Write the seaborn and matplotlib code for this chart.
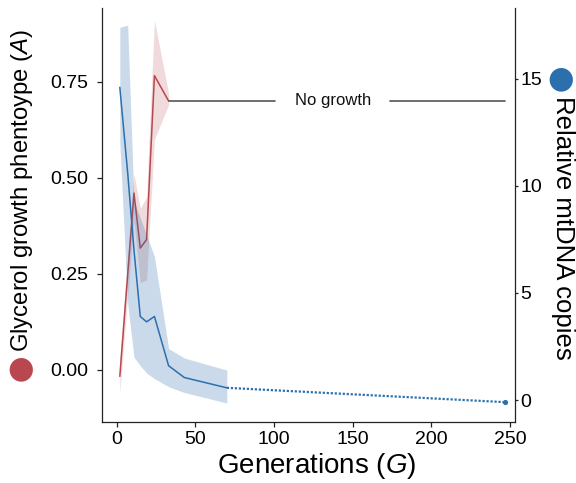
import matplotlib
matplotlib.use("Agg")
import matplotlib.pyplot as plt
import seaborn as sns

sns.set_style("ticks")
plt.rcParams["font.family"] = ["Liberation Sans", "DejaVu Sans"]
plt.rcParams["mathtext.fontset"] = "custom"
plt.rcParams["mathtext.rm"] = "Liberation Sans"
plt.rcParams["mathtext.it"] = "Liberation Sans:italic"
plt.rcParams["xtick.color"] = "#222222"
plt.rcParams["ytick.color"] = "#222222"
plt.rcParams["xtick.labelcolor"] = "black"
plt.rcParams["ytick.labelcolor"] = "black"
plt.rcParams["text.color"] = "black"

RED = "#b8474f"
BLUE = "#2c6fad"

# Glycerol growth phenotype (left axis)
red_gen = [2, 11, 15, 19, 24, 33]
red_mean = [-0.017, 0.46, 0.317, 0.339, 0.766, 0.70]
red_low = [-0.06, 0.39, 0.227, 0.234, 0.60, 0.69]
red_high = [0.03, 0.51, 0.42, 0.45, 0.91, 0.72]

# "No growth" reference line
nogrowth_level = [0.70, 0.70]
nogrowth_left = [33, 100.7]
nogrowth_right = [173.8, 247]
nogrowth_label_gen = 137.5

# Relative mtDNA copies (right axis)
blue_gen = [2, 7, 11, 15, 19, 24, 33, 43, 70]
blue_mean = [14.6, 10.6, 7.0, 3.9, 3.65, 3.9, 1.6, 1.05, 0.57]
blue_low = [12.0, 4.5, 2.0, 1.6, 1.26, 1.0, 0.62, 0.35, -0.14]
blue_high = [17.4, 17.5, 9.3, 8.5, 7.7, 6.7, 2.4, 1.96, 1.4]
blue_tail_gen = [70, 247]
blue_tail_val = [0.57, -0.1]

xticks = [0, 50, 100, 150, 200, 250]
left_ticks = [0.0, 0.25, 0.50, 0.75]
right_ticks = [0, 5, 10, 15]

fig = plt.figure(figsize=(5.76, 4.83), dpi=100)
ax = fig.add_axes([0.1766, 0.127, 0.7177, 0.8564])
ax2 = ax.twinx()

# red series
ax.fill_between(red_gen, red_low, red_high, color=RED, alpha=0.2, lw=0)
sns.lineplot(x=red_gen, y=red_mean, ax=ax, color=RED, lw=1.1)
sns.lineplot(x=nogrowth_left, y=nogrowth_level, ax=ax, color="#555555", lw=1.2)
sns.lineplot(x=nogrowth_right, y=nogrowth_level, ax=ax, color="#555555", lw=1.2)
ax.text(nogrowth_label_gen, nogrowth_level[0], "No growth", ha="center", va="center",
        fontsize=12, color="#111111")

# blue series
ax2.fill_between(blue_gen, blue_low, blue_high, color=BLUE, alpha=0.25, lw=0)
sns.lineplot(x=blue_gen, y=blue_mean, ax=ax2, color=BLUE, lw=1.1)
sns.lineplot(x=blue_tail_gen, y=blue_tail_val, ax=ax2, color=BLUE, lw=1.6,
             linestyle=(0, (1, 0.8)))
sns.scatterplot(x=blue_tail_gen[-1:], y=blue_tail_val[-1:], ax=ax2, color=BLUE,
                s=14, edgecolor=BLUE, linewidth=0)

ax.set_xlim(-9.5, 253.2)
ax.set_ylim(-0.135, 0.942)
ax2.set_ylim(-1.01, 18.3)
ax.set_xticks(xticks)
ax.set_yticks(left_ticks)
ax.set_yticklabels([f"{v:.2f}" for v in left_ticks])
ax2.set_yticks(right_ticks)
ax.set_xlabel("")
ax.set_ylabel("")
ax2.set_ylabel("")

for a in (ax, ax2):
    a.spines["top"].set_visible(False)
    for s in a.spines.values():
        s.set_linewidth(0.9)
        s.set_color("#222222")
ax.spines["right"].set_visible(False)
ax2.spines["left"].set_visible(False)
ax2.spines["bottom"].set_visible(False)

ax.tick_params(axis="x", labelsize=14, length=3.5, width=0.9, pad=3.4,
               labelcolor="black")
ax.tick_params(axis="y", labelsize=14, length=3.5, width=0.9, pad=6,
               labelcolor="black")
ax2.tick_params(axis="y", labelsize=14, length=2.5, width=0.9, pad=1.5,
                labelcolor="black")

# axis labels
fig.text(316.5 / 576, 1 - 472.7 / 483, "Generations ($\\it{G}$)", ha="center",
         va="baseline", fontsize=20)
fig.text(22 / 576, 1 - 190 / 483, "Glycerol growth phentoype ($\\it{A}$)",
         ha="center", va="center", rotation=90, fontsize=17.2)
fig.text(563 / 576, 1 - 227.5 / 483, "Relative mtDNA copies", ha="center",
         va="center", rotation=270, fontsize=18.5)
fig.text(21 / 576, 1 - 369 / 483, "●", ha="center", va="center", fontsize=22,
         color=RED, family="DejaVu Sans")
fig.text(561 / 576, 1 - 79 / 483, "●", ha="center", va="center", fontsize=22,
         color=BLUE, family="DejaVu Sans")

fig.savefig("out.png", dpi=100)
